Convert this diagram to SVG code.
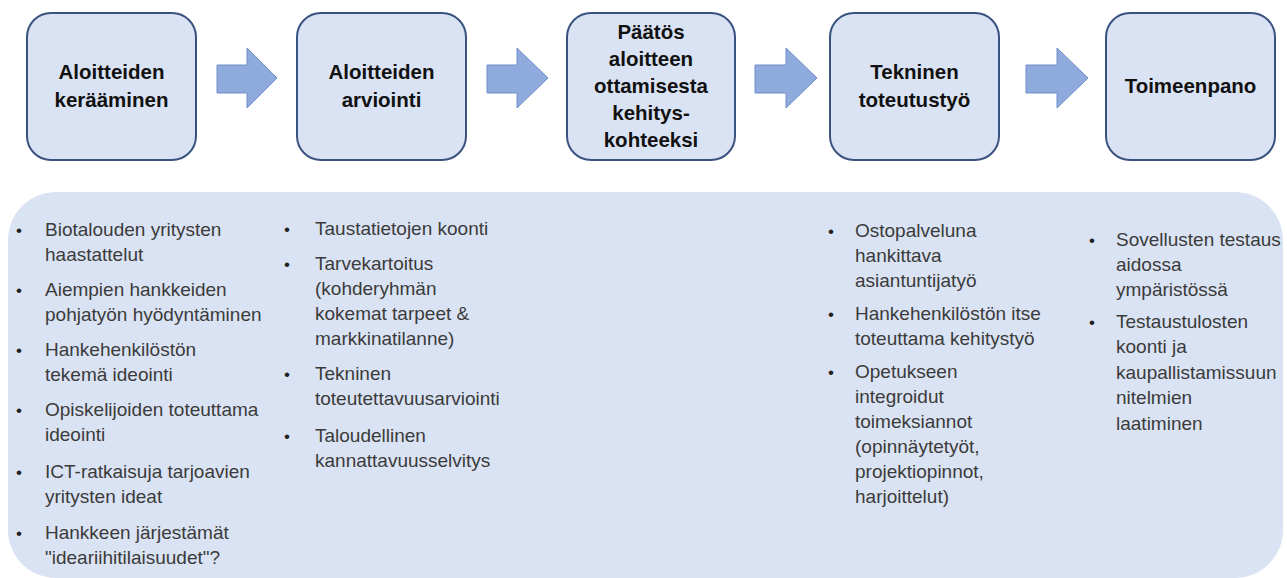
<svg xmlns="http://www.w3.org/2000/svg" width="1287" height="578" viewBox="0 0 1287 578">
<style>
.box{fill:#dae3f3;stroke:#3a5280;stroke-width:2}
.arrow{fill:#8faadc;stroke:#7190c8;stroke-width:1}
.t{font-family:"Liberation Sans",Arial,sans-serif;font-weight:bold;font-size:20.5px;fill:#111;text-anchor:middle}
.b{font-family:"Liberation Sans",Arial,sans-serif;font-size:19px;fill:#3b3b3b}
.d{font-family:"Liberation Sans",Arial,sans-serif;font-size:17px;fill:#222}
</style>
<rect width="1287" height="578" fill="#fff"/>
<g id="panel">
<rect x="8" y="192" width="1275" height="386" rx="48" ry="48" fill="#dae3f3"/>
</g>
<g id="connectors">
<polygon class="arrow" points="217,65 247,65 247,48 277,78 247,108 247,93 217,93"/>
<polygon class="arrow" points="487,65 517,65 517,48 548,78 517,108 517,93 487,93"/>
<polygon class="arrow" points="755,65 786,65 786,48 817,78 786,108 786,93 755,93"/>
<polygon class="arrow" points="1026,65 1057,65 1057,48 1088,78 1057,108 1057,93 1026,93"/>
</g>
<g id="n1">
<rect class="box" x="27" y="13" width="169" height="147" rx="24"/>
<text class="t" x="111.5" y="79">Aloitteiden</text>
<text class="t" x="111.5" y="107">kerääminen</text>
</g>
<g id="n2">
<rect class="box" x="297" y="13" width="169" height="147" rx="24"/>
<text class="t" x="381.5" y="79">Aloitteiden</text>
<text class="t" x="381.5" y="107">arviointi</text>
</g>
<g id="n3">
<rect class="box" x="567" y="13" width="168" height="147" rx="24"/>
<text class="t" x="651" y="39">Päätös</text>
<text class="t" x="651" y="66">aloitteen</text>
<text class="t" x="651" y="93">ottamisesta</text>
<text class="t" x="651" y="120">kehitys-</text>
<text class="t" x="651" y="147">kohteeksi</text>
</g>
<g id="n4">
<rect class="box" x="830" y="13" width="169" height="147" rx="24"/>
<text class="t" x="914.5" y="79">Tekninen</text>
<text class="t" x="914.5" y="107">toteutustyö</text>
</g>
<g id="n5">
<rect class="box" x="1106" y="13" width="169" height="147" rx="24"/>
<text class="t" x="1190.5" y="93">Toimeenpano</text>
</g>
<g id="list1">
<text class="d" x="16" y="236">•</text>
<text class="b" x="45" y="236">Biotalouden yritysten</text>
<text class="b" x="45" y="261">haastattelut</text>
<text class="d" x="16" y="296">•</text>
<text class="b" x="45" y="296">Aiempien hankkeiden</text>
<text class="b" x="45" y="321">pohjatyön hyödyntäminen</text>
<text class="d" x="16" y="356">•</text>
<text class="b" x="45" y="356">Hankehenkilöstön</text>
<text class="b" x="45" y="381">tekemä ideointi</text>
<text class="d" x="16" y="416">•</text>
<text class="b" x="45" y="416">Opiskelijoiden toteuttama</text>
<text class="b" x="45" y="441">ideointi</text>
<text class="d" x="16" y="478">•</text>
<text class="b" x="45" y="478">ICT-ratkaisuja tarjoavien</text>
<text class="b" x="45" y="503">yritysten ideat</text>
<text class="d" x="16" y="539">•</text>
<text class="b" x="45" y="539">Hankkeen järjestämät</text>
<text class="b" x="45" y="564">"ideariihitilaisuudet"?</text>
</g>
<g id="list2">
<text class="d" x="284" y="235">•</text>
<text class="b" x="315" y="235">Taustatietojen koonti</text>
<text class="d" x="284" y="270">•</text>
<text class="b" x="315" y="270">Tarvekartoitus</text>
<text class="b" x="315" y="295">(kohderyhmän</text>
<text class="b" x="315" y="320">kokemat tarpeet &amp;</text>
<text class="b" x="315" y="345">markkinatilanne)</text>
<text class="d" x="284" y="380">•</text>
<text class="b" x="315" y="380">Tekninen</text>
<text class="b" x="315" y="405">toteutettavuusarviointi</text>
<text class="d" x="284" y="442">•</text>
<text class="b" x="315" y="442">Taloudellinen</text>
<text class="b" x="315" y="467">kannattavuusselvitys</text>
</g>
<g id="list3">
<text class="d" x="828" y="237">•</text>
<text class="b" x="855" y="237">Ostopalveluna</text>
<text class="b" x="855" y="262">hankittava</text>
<text class="b" x="855" y="287">asiantuntijatyö</text>
<text class="d" x="828" y="320">•</text>
<text class="b" x="855" y="320">Hankehenkilöstön itse</text>
<text class="b" x="855" y="345">toteuttama kehitystyö</text>
<text class="d" x="828" y="378">•</text>
<text class="b" x="855" y="378">Opetukseen</text>
<text class="b" x="855" y="403">integroidut</text>
<text class="b" x="855" y="428">toimeksiannot</text>
<text class="b" x="855" y="453">(opinnäytetyöt,</text>
<text class="b" x="855" y="478">projektiopinnot,</text>
<text class="b" x="855" y="503">harjoittelut)</text>
</g>
<g id="list4">
<text class="d" x="1089" y="246">•</text>
<text class="b" x="1116" y="246">Sovellusten testaus</text>
<text class="b" x="1116" y="271">aidossa</text>
<text class="b" x="1116" y="296">ympäristössä</text>
<text class="d" x="1089" y="328">•</text>
<text class="b" x="1116" y="328">Testaustulosten</text>
<text class="b" x="1116" y="353">koonti ja</text>
<text class="b" x="1116" y="379">kaupallistamissuun</text>
<text class="b" x="1116" y="404">nitelmien</text>
<text class="b" x="1116" y="430">laatiminen</text>
</g>
</svg>
